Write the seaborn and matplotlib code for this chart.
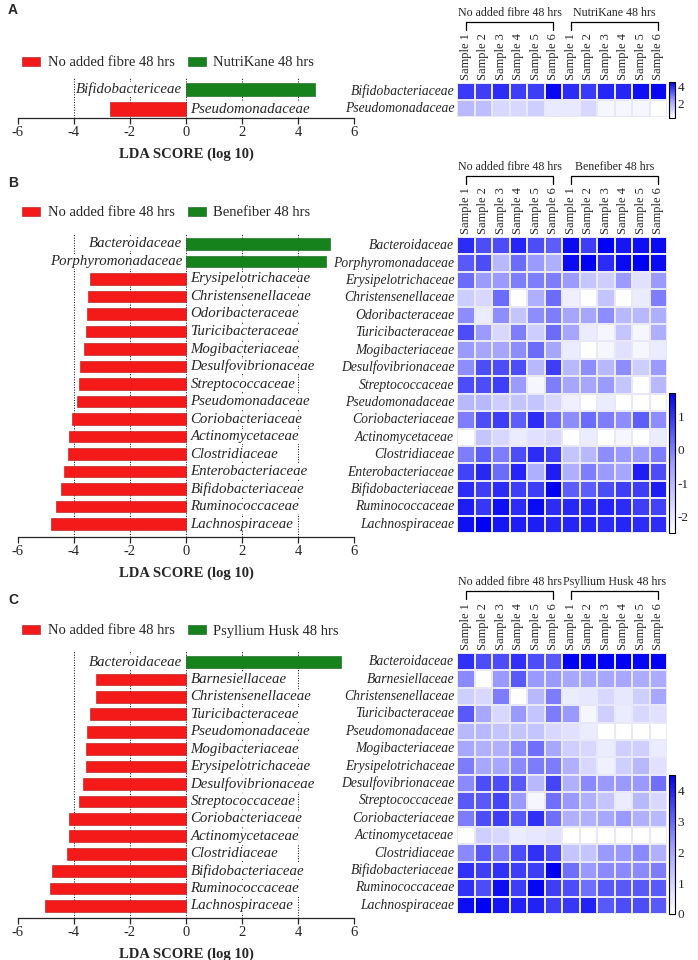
import numpy as np
import pandas as pd
import matplotlib
matplotlib.use("Agg")
import matplotlib.pyplot as plt
import seaborn as sns
from matplotlib.patches import Patch
from matplotlib.colors import LinearSegmentedColormap, to_rgb
from matplotlib.transforms import blended_transform_factory

sns.set_style("ticks")
plt.rcParams["font.family"] = ["Liberation Serif", "DejaVu Serif"]
plt.rcParams["axes.unicode_minus"] = False

W, H = 698, 960

samples = ["Sample 1", "Sample 2", "Sample 3", "Sample 4", "Sample 5", "Sample 6"] * 2
control = "No added fibre 48 hrs"

# ---- panel A : NutriKane
a_treat = "NutriKane 48 hrs"
a_bar_taxa = ["Bifidobactericeae", "Pseudomonadaceae"]
a_heat_taxa = ["Bifidobacteriaceae", "Pseudomonadaceae"]
a_lda = [4.6, -2.7]
a_heat = [
    [3.7, 3.65, 3.9, 3.65, 3.65, 4.4, 3.9, 3.7, 4.0, 4.0, 4.3, 4.4],
    [1.75, 1.65, 1.1, 1.1, 1.3, 0.7, 0.75, 1.1, 0.45, 0.45, 0.45, 0.25],
]

# ---- panel B : Benefiber
b_treat = "Benefiber 48 hrs"
b_taxa = ["Bacteroidaceae", "Porphyromonadaceae", "Erysipelotrichaceae",
          "Christensenellaceae", "Odoribacteraceae", "Turicibacteraceae",
          "Mogibacteriaceae", "Desulfovibrionaceae", "Streptococcaceae",
          "Pseudomonadaceae", "Coriobacteriaceae", "Actinomycetaceae",
          "Clostridiaceae", "Enterobacteriaceae", "Bifidobacteriaceae",
          "Ruminococcaceae", "Lachnospiraceae"]
b_lda = [5.13, 5.0, -3.42, -3.49, -3.55, -3.57, -3.64, -3.78, -3.81, -3.9,
         -4.06, -4.18, -4.23, -4.36, -4.45, -4.64, -4.83]
b_heat = [
    [1.1, 0.65, 0.65, 1.2, 0.65, 0.45, 1.55, 0.85, 1.7, 1.4, 1.5, 1.55],
    [0.5, 0.65, -1.0, 0.25, -0.4, -0.8, 1.55, 1.7, 1.1, 1.55, 1.7, 1.55],
    [0.25, -0.4, -0.4, 0.0, 0.0, 0.0, -0.4, -1.25, -1.45, -0.4, -1.85, -0.4],
    [-1.45, -1.65, 0.25, -2.5, -0.8, 0.25, -2.15, -2.5, -1.25, -2.5, -2.1, 0.0],
    [-0.2, -2.1, -0.2, -1.25, -0.2, 0.0, -0.6, -0.6, -0.2, -1.0, -1.0, -0.8],
    [0.65, -0.4, -1.65, 0.0, -1.45, 0.25, -0.6, -2.1, -2.3, -1.25, -2.3, -0.8],
    [-0.4, -0.6, -0.6, -0.2, 0.25, -0.6, -2.1, -2.5, -2.3, -1.85, -2.3, -2.1],
    [-0.2, 0.65, 0.65, 0.65, -1.0, 0.85, -1.0, -0.2, -1.0, -0.2, -1.45, -0.4],
    [0.65, 0.65, 0.85, -0.4, -2.3, 0.0, -0.6, -0.6, -0.4, -1.25, -2.5, -1.0],
    [-1.0, -1.0, -1.45, -1.25, -1.25, -1.65, -2.15, -2.5, -2.1, -2.5, -2.5, -2.5],
    [0.0, 0.65, 0.85, 0.45, 1.1, 0.25, -0.2, 0.25, 0.0, -0.2, 0.45, -0.2],
    [-2.5, -1.25, -1.65, -2.1, -1.85, -1.65, -2.5, -2.1, -2.5, -2.3, -2.5, -2.1],
    [0.0, 0.45, 0.0, 0.65, 1.1, 0.85, -1.25, -1.0, -0.2, -0.4, -0.4, 0.0],
    [0.8, 1.15, 0.25, 1.2, -0.8, 1.3, -0.8, 0.0, -0.4, -0.6, 1.3, 0.65],
    [1.1, 0.85, 1.1, 0.85, 0.85, 1.7, 0.45, 0.45, 0.65, 0.85, 0.85, 1.3],
    [1.3, 0.95, 1.5, 1.1, 1.55, 1.1, 1.15, 1.1, 1.2, 1.1, 0.85, 0.8],
    [1.5, 1.7, 1.4, 1.3, 1.3, 1.2, 1.2, 1.2, 1.1, 1.2, 1.1, 1.1],
]

# ---- panel C : Psyllium Husk
c_treat = "Psyllium Husk 48 hrs"
c_taxa = ["Bacteroidaceae", "Barnesiellaceae", "Christensenellaceae",
          "Turicibacteraceae", "Pseudomonadaceae", "Mogibacteriaceae",
          "Erysipelotrichaceae", "Desulfovibrionaceae", "Streptococcaceae",
          "Coriobacteriaceae", "Actinomycetaceae", "Clostridiaceae",
          "Bifidobacteriaceae", "Ruminococcaceae", "Lachnospiraceae"]
c_lda = [5.54, -3.22, -3.22, -3.42, -3.54, -3.56, -3.56, -3.68, -3.83,
         -4.17, -4.19, -4.24, -4.78, -4.87, -5.03]
c_heat = [
    [3.8, 3.4, 3.4, 3.8, 3.4, 3.2, 4.5, 4.4, 4.5, 4.5, 4.4, 4.5],
    [2.5, 0.0, 2.3, 3.2, 2.3, 2.3, 2.0, 2.0, 2.0, 2.0, 1.9, 1.9],
    [1.1, 0.9, 2.7, 0.0, 1.6, 2.7, 0.45, 0.55, 0.9, 0.55, 1.1, 2.0],
    [3.2, 2.0, 0.9, 2.3, 1.35, 2.7, 2.3, 0.2, 1.1, 0.45, 0.9, 0.7],
    [1.6, 1.6, 1.35, 1.35, 1.35, 0.9, 0.7, 0.45, 0.0, 0.0, 0.0, 0.0],
    [2.0, 1.8, 1.8, 2.5, 2.9, 2.0, 1.1, 0.9, 0.45, 1.1, 1.1, 0.45],
    [2.7, 2.0, 2.0, 2.5, 2.7, 2.7, 1.8, 0.9, 0.35, 1.1, 1.6, 0.7],
    [2.5, 3.4, 3.4, 3.2, 1.6, 3.5, 1.8, 2.5, 2.3, 2.3, 2.3, 2.9],
    [3.2, 3.2, 3.5, 2.3, 0.2, 2.9, 2.3, 1.8, 1.35, 0.45, 1.6, 0.9],
    [2.7, 3.4, 3.6, 3.2, 3.8, 2.9, 1.8, 1.8, 2.0, 2.3, 1.8, 1.6],
    [0.0, 1.1, 0.9, 0.45, 0.55, 0.7, 0.0, 0.0, 0.0, 0.0, 0.0, 0.0],
    [2.5, 3.2, 2.7, 3.4, 3.8, 3.4, 1.35, 1.35, 2.3, 2.3, 2.5, 1.8],
    [3.8, 3.6, 3.8, 3.6, 3.6, 4.5, 2.9, 2.3, 2.5, 2.5, 2.5, 2.7],
    [3.8, 3.4, 4.3, 3.6, 4.4, 3.6, 3.4, 2.9, 3.2, 3.2, 3.2, 3.2],
    [4.3, 4.5, 4.2, 4.0, 4.0, 3.6, 3.7, 4.0, 3.2, 3.4, 3.4, 3.2],
]

red = "#f51a1a"
green = "#16821c"
cmap = LinearSegmentedColormap.from_list(
    "white_blue", [(0, "#ffffff"), (0.5, "#9c9cff"), (1, "#0000f2")])


def box(x0, y0, x1, y1):
    # pixel box -> figure fraction rect
    return [x0 / W, 1 - y1 / H, (x1 - x0) / W, (y1 - y0) / H]


def lda_panel(ax, taxa, scores, ylim):
    df = pd.DataFrame({"taxon": taxa, "lda": scores})
    df["side"] = np.where(df["lda"] > 0, "up", "down")
    for g in [-4, -2, 0, 2, 4]:
        ax.axvline(g, ls=":", color="black", lw=0.7, zorder=0)
    sns.barplot(data=df, x="lda", y="taxon", hue="side",
                palette={"up": green, "down": red}, dodge=False, width=0.68,
                orient="h", legend=False, ax=ax, zorder=2, saturation=1,
                linewidth=0.4)
    # slightly darker outline in each bar's own colour
    for p in ax.patches:
        r, g, b = to_rgb(p.get_facecolor())
        p.set_edgecolor((r * 0.7, g * 0.7, b * 0.7))
    for i, (t, s) in enumerate(zip(taxa, scores)):
        if s > 0:
            ax.text(-0.14, i, t, ha="right", va="center", style="italic",
                    fontsize=10.7, zorder=3,
                    bbox=dict(fc="white", ec="none", pad=0.5))
        else:
            ax.text(0.16, i, t, ha="left", va="center", style="italic",
                    fontsize=10.7, zorder=3,
                    bbox=dict(fc="white", ec="none", pad=0.5))
    ax.set_xlim(-6, 6)
    ax.set_ylim(*ylim)
    ax.set_xticks(range(-6, 7, 2))
    ax.set_yticks([])
    ax.set_ylabel("")
    ax.set_xlabel("LDA SCORE (log 10)", fontweight="bold", fontsize=10.5, labelpad=6)
    for sp in ["left", "right", "top"]:
        ax.spines[sp].set_visible(False)
    ax.spines["bottom"].set_linewidth(0.9)
    ax.tick_params(axis="x", length=4, width=0.9, labelsize=10.5, pad=2)


def heat_panel(ax, cax, taxa, values, vmin, vmax, ticks, treat, y_bracket):
    df = pd.DataFrame(values, index=taxa)
    sns.heatmap(df, cmap=cmap, vmin=vmin, vmax=vmax, ax=ax, cbar_ax=cax,
                xticklabels=samples, yticklabels=taxa,
                linewidths=0.1, linecolor="#e8e8f8",
                cbar_kws={"ticks": ticks})
    ax.xaxis.tick_top()
    ax.set_xticklabels(samples, rotation=90, fontsize=9)
    ax.set_yticklabels(taxa, rotation=0, fontsize=9.8, style="italic")
    ax.tick_params(length=0, pad=2)
    cb = ax.collections[0].colorbar
    cb.outline.set_edgecolor("black")
    cb.outline.set_linewidth(0.8)
    cax.tick_params(labelsize=9.5, length=3, width=0.8, direction="in", pad=2)
    trans = blended_transform_factory(ax.transData, fig.transFigure)
    yt = 1 - y_bracket / H
    yb = 1 - (y_bracket + 8) / H
    for k, name in enumerate([control, treat]):
        x0, x1 = 6 * k + 0.5, 6 * k + 5.5
        ax.plot([x0, x0, x1, x1], [yb, yt, yt, yb], color="black", lw=0.9,
                transform=trans, clip_on=False)
        ax.text((x0 + x1) / 2, 1 - (y_bracket - 9) / H, name, transform=trans,
                ha="center", va="center", fontsize=8.6)


fig = plt.figure(figsize=(W / 100, H / 100), dpi=100)

# panel letters
for letter, y in [("A", 10), ("B", 183), ("C", 600)]:
    fig.text(8 / W, 1 - y / H, letter, family="Liberation Sans",
             fontweight="bold", fontsize=10, va="center")

# legends
for treat, y in [(a_treat, 63), (b_treat, 213), (c_treat, 631)]:
    handles = [Patch(fc=red, ec="#ab1212", lw=0.4, label=control),
               Patch(fc=green, ec="#0f5b14", lw=0.4, label=treat)]
    fig.legend(handles=handles, loc="center left",
               bbox_to_anchor=(22 / W, 1 - y / H), ncol=2, frameon=False,
               fontsize=10.5, handlelength=1.25, handleheight=0.55,
               handletextpad=0.5, columnspacing=0.9, borderaxespad=0,
               borderpad=0)

# LDA bar panels
ax_a = fig.add_axes(box(18, 78, 354, 118))
lda_panel(ax_a, a_bar_taxa, a_lda, (1.46, -0.59))
ax_b = fig.add_axes(box(18, 234, 354, 537))
lda_panel(ax_b, b_taxa, b_lda, (16.74, -0.57))
ax_c = fig.add_axes(box(18, 650, 354, 918))
lda_panel(ax_c, c_taxa, c_lda, (14.69, -0.69))

# heatmaps
hm_a = fig.add_axes(box(457, 83, 667, 117))
cb_a = fig.add_axes(box(669, 82, 675, 118))
heat_panel(hm_a, cb_a, a_heat_taxa, a_heat, 0.25, 4.5, [2, 4], a_treat, 22)

hm_b = fig.add_axes(box(457, 237, 667, 533))
cb_b = fig.add_axes(box(669, 393, 675, 533))
heat_panel(hm_b, cb_b, b_taxa, b_heat, -2.5, 1.7, [-2, -1, 0, 1], b_treat, 176)

hm_c = fig.add_axes(box(457, 653, 667, 914))
cb_c = fig.add_axes(box(669, 775, 675, 914))
heat_panel(hm_c, cb_c, c_taxa, c_heat, 0, 4.5, [0, 1, 2, 3, 4], c_treat, 591)

fig.savefig("out.png", dpi=100)
